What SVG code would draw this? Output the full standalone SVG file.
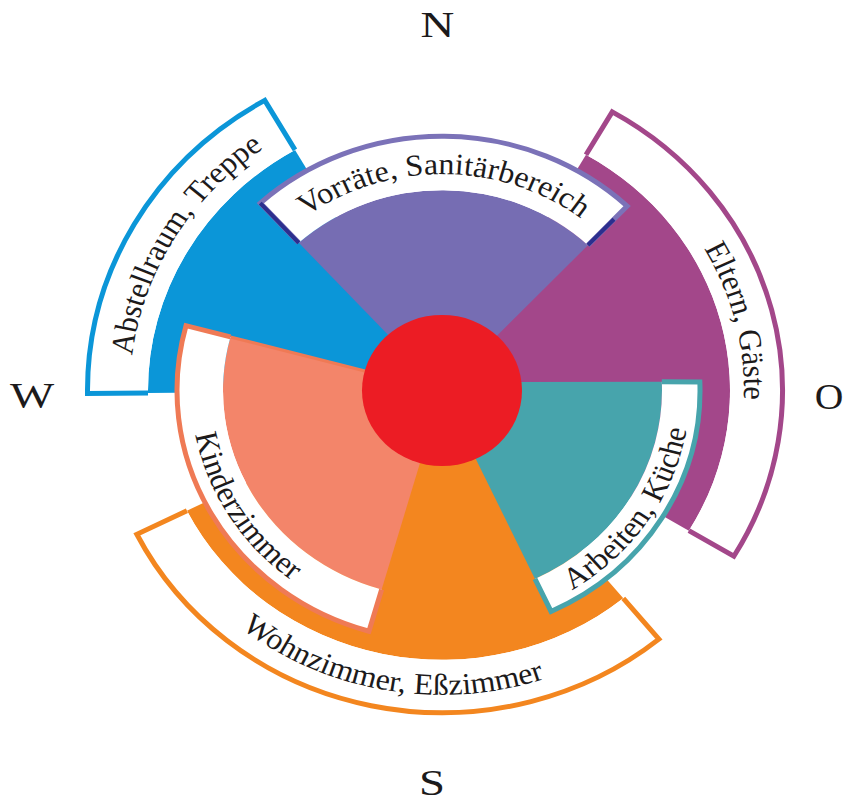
<svg xmlns="http://www.w3.org/2000/svg" width="846" height="803" viewBox="0 0 846 803">
<style>
.t{font-family:"Liberation Serif","Times New Roman",serif;font-size:32px;fill:#1c1a1b}
.c{font-family:"Liberation Serif","Times New Roman",serif;font-size:36px;fill:#1c1a1b;text-anchor:middle}
.band{fill:#fff;stroke:none}
.ol{fill:none;stroke-width:5;stroke-linejoin:miter;vector-effect:non-scaling-stroke}
</style>
<defs>
<path id="pBlue" d="M-272.88,151.26 A312,312 0 0 1 5.45,-311.95"/>
<path id="pPurple" d="M-214.50,-80.20 A229,229 0 0 1 215.86,-76.44"/>
<path id="pMag" d="M83.24,-290.30 A302,302 0 0 1 209.79,217.24"/>
<path id="pTeal" d="M-17.30,247.40 A248,248 0 0 0 222.90,-108.72"/>
<path id="pOrange" d="M-302.58,110.13 A322,322 0 0 0 246.67,206.98"/>
<path id="pSalmon" d="M-221.62,-117.84 A251,251 0 0 0 8.76,250.85"/>
</defs>
<rect width="846" height="803" fill="#fff"/>
<g transform="translate(442,390.5) scale(1,0.945)">
<g id="abstellraum">
<path d="M0,0 L-293.99,2.57 A294,294 0 0 1 -147,-254.61 Z" fill="#0b96d8"/>
<path class="band" d="M-293.99,2.57 L-354.49,3.09 A354.5,354.5 0 0 1 -177.25,-307.01 L-147,-254.61 A294,294 0 0 0 -293.99,2.57 Z"/>
<path class="ol" stroke="#0b96d8" d="M-293.99,2.57 L-354.49,3.09 A354.5,354.5 0 0 1 -177.25,-307.01 L-147,-254.61"/>
<text class="t"><textPath href="#pBlue" startOffset="50%" text-anchor="middle">Abstellraum, Treppe</textPath></text>
</g>
<g id="eltern">
<path d="M0,0 L144,-249.42 A288,288 0 0 1 246.86,148.33 Z" fill="#a3478a"/>
<path class="band" d="M144,-249.42 L170.25,-294.88 A340.5,340.5 0 0 1 291.86,175.37 L246.86,148.33 A288,288 0 0 0 144,-249.42 Z"/>
<path class="ol" stroke="#a3478a" d="M144,-249.42 L170.25,-294.88 A340.5,340.5 0 0 1 291.86,175.37 L246.86,148.33"/>
<text class="t"><textPath href="#pMag" startOffset="50%" text-anchor="middle">Eltern, Gäste</textPath></text>
</g>
<g id="wohnzimmer">
<path d="M0,0 L181.28,219.91 A285,285 0 0 1 -255.06,127.17 Z" fill="#f3861f"/>
<path class="band" d="M181.28,219.91 L216.90,263.12 A341,341 0 0 1 -305.17,152.15 L-255.06,127.17 A285,285 0 0 0 181.28,219.91 Z"/>
<path class="ol" stroke="#f3861f" d="M181.28,219.91 L216.90,263.12 A341,341 0 0 1 -305.17,152.15 L-255.06,127.17"/>
<text class="t"><textPath href="#pOrange" startOffset="50%" text-anchor="middle">Wohnzimmer, Eßzimmer</textPath></text>
</g>
<g id="vorraete">
<path d="M0,0 L-143.23,-156.30 A212,212 0 0 1 145.93,-153.78 Z" fill="#766db3"/>
<path class="band" d="M-143.23,-156.30 L-181.73,-198.33 A269,269 0 0 1 185.17,-195.13 L145.93,-153.78 A212,212 0 0 0 -143.23,-156.30 Z"/>
<path class="ol" stroke="#7b72b8" d="M-143.23,-156.30 L-181.73,-198.33 A269,269 0 0 1 185.17,-195.13 L145.93,-153.78"/>
<path d="M-143.23,-156.30 L-181.73,-198.33 M145.93,-153.78 L172,-181.2" stroke="#2c2f8e" stroke-width="4" fill="none" vector-effect="non-scaling-stroke"/>
<text class="t"><textPath href="#pPurple" startOffset="50%" text-anchor="middle">Vorräte, Sanitärbereich</textPath></text>
</g>
<g id="arbeiten">
<path d="M0,0 L0,-9 L219.8,-9.2 A220,220 0 0 1 92.98,199.39 Z" fill="#47a4ac"/>
<path class="band" d="M219.8,-9.2 L257.84,-9.0 A258,258 0 0 1 109.04,233.83 L92.98,199.39 A220,220 0 0 0 219.8,-9.2 Z"/>
<path class="ol" stroke="#47a4ac" d="M219.8,-9.2 L257.84,-9.0 A258,258 0 0 1 109.04,233.83 L92.98,199.39"/>
<text class="t"><textPath href="#pTeal" startOffset="50%" text-anchor="middle">Arbeiten, Küche</textPath></text>
</g>
<g id="kinderzimmer">
<path d="M0,0 L-60.36,210.52 A219,219 0 0 1 -211.54,-56.68 Z" fill="#f3856a"/>
<path d="M-211.54,-56.68 L0,0" stroke="#ef7a55" stroke-width="3" fill="none" vector-effect="non-scaling-stroke"/>
<path class="band" d="M-60.36,210.52 L-73.04,254.73 A265,265 0 0 1 -255.97,-68.59 L-211.54,-56.68 A219,219 0 0 0 -60.36,210.52 Z"/>
<path class="ol" stroke="#ef7a55" d="M-60.36,210.52 L-73.04,254.73 A265,265 0 0 1 -255.97,-68.59 L-211.54,-56.68"/>
<text class="t"><textPath href="#pSalmon" startOffset="50%" text-anchor="middle">Kinderzimmer</textPath></text>
</g>
<g id="zentrum">
<circle cx="0" cy="0" r="80" fill="#ec1c24"/>
</g>
</g>
<g id="kompass">
<text class="c" transform="translate(437.5,36.5) scale(1.3,1)">N</text>
<text class="c" transform="translate(32,408) scale(1.3,1)">W</text>
<text class="c" transform="translate(829,409) scale(1.1,1)">O</text>
<text class="c" transform="translate(432,795) scale(1.3,1)">S</text>
</g>
</svg>
